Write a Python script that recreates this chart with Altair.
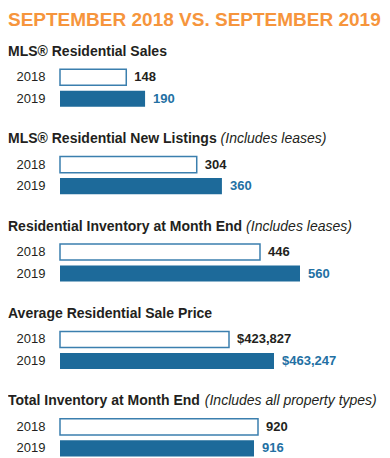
import altair as alt
import pandas as pd

# ---------------- data ----------------
MAIN_TITLE = "SEPTEMBER 2018 VS. SEPTEMBER 2019"
sections = [
    "MLS® Residential Sales",
    "MLS® Residential New Listings",
    "Residential Inventory at Month End",
    "Average Residential Sale Price",
    "Total Inventory at Month End",
]
notes = ["", "(Includes leases)", "(Includes leases)", "", "(Includes all property types)"]
years = ["2018", "2019"]
values_2018 = [148, 304, 446, 423827, 920]
values_2019 = [190, 360, 560, 463247, 916]
formats = ["d", "d", "d", "$,.0f", "d"]

# ---------------- layout / style ----------------
DOMAINS = [(0, 670), (0, 667), (-124, 731), (275783, 538583), (722, 1022)]
NOTE_DX = [0, 212.6, 238.1, 0, 196.8]
FONT = "Liberation Sans"
DARK = "#231F20"
BLUE = "#1D6A9A"
OUTLINE = "#3B7FAE"
LABEL_BLUE = "#2370A3"
ORANGE = "#F6953C"
W, H = 300, 43
TITLE_X = -52
TITLE_Y = -10.75

panels = []
for i, sec in enumerate(sections):
    df = pd.DataFrame({
        "section": [sec, sec],
        "note": [notes[i], notes[i]],
        "year": years,
        "value": [values_2018[i], values_2019[i]],
    })
    lo, hi = DOMAINS[i]
    base = alt.Chart(df)
    xscale = alt.Scale(domain=[lo, hi], nice=False, zero=False)
    yenc = alt.Y(
        "year:N", sort=years,
        scale=alt.Scale(paddingInner=0.25, paddingOuter=0.125),
        axis=alt.Axis(title=None, domain=False, ticks=False, labelPadding=15,
                      labelFont=FONT, labelFontSize=13, labelColor=DARK),
    )
    is18 = alt.datum.year == "2018"
    bars = base.mark_bar().encode(
        x=alt.X("value:Q", scale=xscale, axis=None),
        x2=alt.X2(datum=lo),
        y=yenc,
        fill=alt.condition(is18, alt.value("white"), alt.value(BLUE)),
        stroke=alt.condition(is18, alt.value(OUTLINE), alt.value(BLUE)),
        strokeWidth=alt.condition(is18, alt.value(1.5), alt.value(0)),
    )
    labels = base.mark_text(
        align="left", baseline="middle", dx=8, font=FONT, fontSize=13, fontWeight="bold"
    ).encode(
        x=alt.X("value:Q", scale=xscale, axis=None),
        y=yenc,
        text=alt.Text("value:Q", format=formats[i]),
        color=alt.condition(is18, alt.value(DARK), alt.value(LABEL_BLUE)),
    )
    one = base.transform_filter(is18)
    title = one.mark_text(
        align="left", baseline="alphabetic", font=FONT, fontSize=14,
        fontWeight="bold", color=DARK
    ).encode(x=alt.value(TITLE_X), y=alt.value(TITLE_Y), text="section:N")
    layers = [bars, labels, title]
    if notes[i]:
        note = one.mark_text(
            align="left", baseline="alphabetic", font=FONT, fontSize=14,
            fontStyle="italic", color=DARK
        ).encode(x=alt.value(TITLE_X + NOTE_DX[i]), y=alt.value(TITLE_Y), text="note:N")
        layers.append(note)
    if i == 0:
        main = one.mark_text(
            align="left", baseline="alphabetic", font=FONT, fontSize=19,
            fontWeight="bold", color=ORANGE, text=MAIN_TITLE
        ).encode(x=alt.value(TITLE_X), y=alt.value(-40.25))
        layers.append(main)
    panels.append(alt.layer(*layers).properties(width=W, height=H))

chart = alt.vconcat(*panels, spacing=22.4).properties(
    padding={"top": 2.5, "left": 0, "right": 0, "bottom": 0}, background="white"
).configure_view(stroke=None)
chart.save("out.html", embed_options={"renderer": "svg", "actions": False})
